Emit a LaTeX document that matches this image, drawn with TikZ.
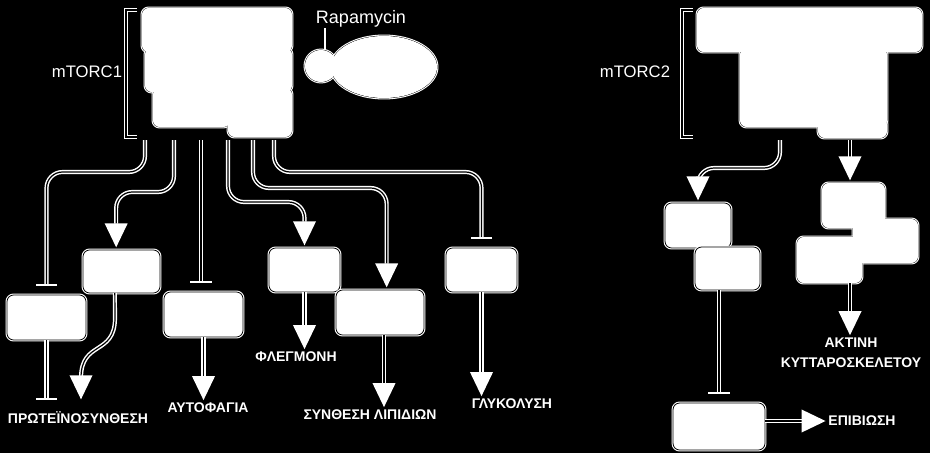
\documentclass[tikz,border=0pt]{standalone}
\usepackage{fontspec}
\setmainfont{Liberation Sans}
\usetikzlibrary{arrows.meta,fit,shapes.geometric}

\tikzset{
  box/.style={rectangle, rounded corners=5pt, fill=white, draw=white, double=black, double distance=0.6pt, line width=0.8pt, inner sep=0pt, outer sep=0pt},
  wire/.style={draw=white, double=black, line width=1.1pt, double distance=0.9pt},
  act/.style={wire, -{Triangle[width=17pt,length=18pt,fill=white]}, shorten >=2pt},
  inh/.style={wire, -{Bar[width=16pt]}, shorten >=7pt},
  elbow/.style={rounded corners=12pt},
  lbl/.style={text=white, font=\bfseries\fontsize{10.5}{15}\selectfont, inner sep=0pt, align=center},
  cname/.style={text=white, font=\fontsize{12.5}{14}\selectfont, inner sep=0pt}
}

\begin{document}
\begin{tikzpicture}[x=0.75pt, y=-0.75pt]
\fill[black] (0,0) rectangle (930,453);
\useasboundingbox (0,0) rectangle (930,453);

% mTORC1 complex
\node[box, fit={(142,8) (292,52)}] (m1a) {};
\node[box, fit={(145,48) (292,92)}] (m1b) {};
\node[box, fit={(153,88) (230,127)}] (m1c) {};
\node[box, fit={(228,88) (292,137)}] (m1d) {};
\foreach \n in {m1a,m1b,m1c,m1d}
  \fill[white, rounded corners=5pt] (\n.north west) rectangle (\n.south east);
\draw[wire] (137,10) -- (126,10) -- (126,137) -- (137,137);
\node[cname] (mt1) at (87,72) {mTORC1};

% rapamycin
\node[cname, font=\fontsize{13.5}{15}\selectfont] (rap) at (361,19) {Rapamycin};
\node[box, circle, minimum size=24pt] (rsm) at (321,66) {};
\node[box, ellipse, minimum width=79.5pt, minimum height=46.5pt] (rbg) at (384,67) {};
\fill[white] (rsm.center) circle[radius=12pt];
\fill[white] (rbg.center) ellipse[x radius=39.75pt, y radius=23.25pt];
\draw[white, line width=1.2pt] ([xshift=3pt]rsm.north) -- ([xshift=3pt]rsm.north |- rap.south);

% targets of mTORC1
\node[box, fit={(7,295) (86,340)}] (pr1) {};
\node[box, fit={(83,250) (160,293)}] (pr2) {};
\node[box, fit={(164,292) (243,337)}] (pr3) {};
\node[box, fit={(269,248) (340,292)}] (pr4) {};
\node[box, fit={(336,290) (424,335)}] (pr5) {};
\node[box, fit={(446,248) (517,292)}] (pr6) {};

\node[lbl] (l1) at (78,418) {ΠΡΩΤΕΪΝΟΣΥΝΘΕΣΗ};
\node[lbl] (l3) at (208,408) {ΑΥΤΟΦΑΓΙΑ};
\node[lbl] (l4) at (296,357) {ΦΛΕΓΜΟΝΗ};
\node[lbl] (l5) at (370,415) {ΣΥΝΘΕΣΗ ΛΙΠΙΔΙΩΝ};
\node[lbl] (l6) at (512,404) {ΓΛΥΚΟΛΥΣΗ};

\coordinate (s1) at (145,140);
\coordinate (s2) at (174,140);
\coordinate (s3) at (201,140);
\coordinate (s4) at (228,140);
\coordinate (s5) at (253,140);
\coordinate (s6) at (274,140);
\coordinate (e2) at (81,402);

\draw[inh, elbow] (s1) -- (145,172) -| (pr1);
\draw[act, elbow] (s2) -- (174,192) -| ([xshift=-4pt]pr2.north);
\draw[inh] (s3) -- (s3 |- pr3.north);
\draw[act, elbow] (s4) -- (228,202) -| (pr4);
\draw[act, elbow] (s5) -- (253,188) -| ([xshift=5pt]pr5.north);
\draw[inh, elbow] (s6) -- (274,172) -| (pr6);

\draw[inh, shorten >=9pt] (pr1) -- (pr1 |- l1.north);
\draw[act] ([xshift=-5pt]pr2.south) -- (115,318) .. controls +(0,38) and +(0,-38) .. (81,378) -- (e2);
\draw[act] (pr3) -- (pr3 |- l3.north);
\draw[act] (pr4) -- (pr4 |- l4.north);
\draw[act] ([xshift=3pt]pr5.south) -- ([xshift=3pt]pr5.south |- l5.north);
\draw[act] (pr6) -- (pr6 |- l6.north);

% mTORC2 complex
\node[box, fit={(697,8) (922,52)}] (m2a) {};
\node[box, fit={(740,48) (887,127)}] (m2b) {};
\node[box, fit={(818,118) (887,138)}] (m2c) {};
\foreach \n in {m2a,m2b,m2c}
  \fill[white, rounded corners=5pt] (\n.north west) rectangle (\n.south east);
\draw[wire] (693,10) -- (682,10) -- (682,137) -- (693,137);
\node[cname] (mt2) at (635,72) {mTORC2};

% targets of mTORC2
\node[box, fit={(822,183) (885,228)}] (c1) {};
\node[box, fit={(853,219) (918,263)}] (c2) {};
\node[box, fit={(797,237) (862,283)}] (c3) {};
\foreach \n in {c1,c2,c3}
  \fill[white, rounded corners=5pt] (\n.north west) rectangle (\n.south east);
\node[box, fit={(665,203) (731,248)}] (q1) {};
\node[box, fit={(695,247) (760,290)}] (q2) {};
\node[box, fit={(673,403) (765,450)}] (q3) {};

\node[lbl] (l8) at (851,353) {ΑΚΤΙΝΗ\\ΚΥΤΤΑΡΟΣΚΕΛΕΤΟΥ};
\node[lbl] (l10) at (862,421) {ΕΠΙΒΙΩΣΗ};

\coordinate (s7) at (780,140);
\coordinate (s8) at (850,140);

\draw[act, elbow] (s7) -- (780,168) -| (q1);
\draw[act] (s8) -- (s8 |- c1.north);
\draw[act] (s8 |- c3.south) -- (s8 |- l8.north);
\draw[inh] (q3 |- q2.south) -- (q3);
\draw[act] (q3.east |- l10) -- (l10.west);
\end{tikzpicture}
\end{document}
